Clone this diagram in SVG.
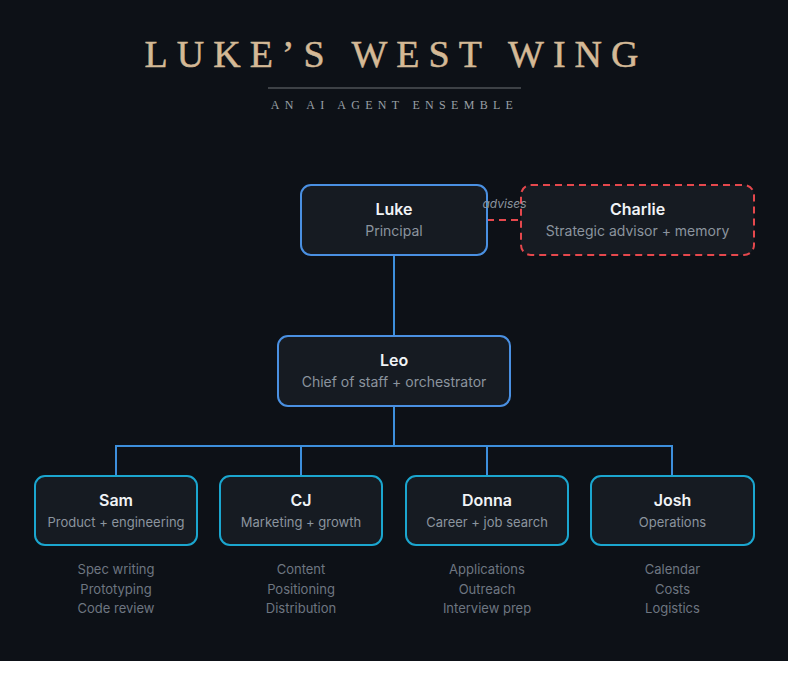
<svg xmlns="http://www.w3.org/2000/svg" width="800" height="673" viewBox="0 0 800 673">
<style>
.bg{fill:#0d1117}
.box{fill:#161b22;stroke-width:2}
.top{stroke:#4a90e2}
.team{stroke:#1ba6cf}
.adv{stroke:#e5484d;stroke-dasharray:7 5}
.name{font-family:Inter,"Liberation Sans",sans-serif;font-size:16px;font-weight:600;fill:#f0f3f6;text-anchor:middle}
.role{font-family:Inter,"Liberation Sans",sans-serif;font-size:14px;fill:#8b949e;text-anchor:middle}
.team-role{font-size:13px}
.item{font-family:Inter,"Liberation Sans",sans-serif;font-size:13px;fill:#6e7681;text-anchor:middle}
.link{fill:none;stroke:#3d8fdc;stroke-width:2}
</style>
<rect x="0" y="0" width="800" height="673" fill="#ffffff"/>
<rect class="bg" x="0" y="0" width="788" height="661"/>
<text x="396" y="67" font-family="'Liberation Serif',serif" font-size="38" letter-spacing="9" fill="#d4b996" stroke="#d4b996" stroke-width="0.5" text-anchor="middle">LUKE’S WEST WING</text>
<line x1="268" y1="88" x2="521" y2="88" stroke="#6e7276" stroke-width="1"/>
<text x="394.5" y="109" font-family="'Liberation Serif',serif" font-size="12" letter-spacing="5.3" fill="#9aa0a6" text-anchor="middle">AN AI AGENT ENSEMBLE</text>
<g id="connectors">
<line class="link" x1="394" y1="255" x2="394" y2="336"/>
<path class="link" d="M394 406V446M116 476V446H672V476M301 446V476M487 446V476"/>
<line x1="487" y1="220" x2="521" y2="220" stroke="#e5484d" stroke-width="2" stroke-dasharray="7 5"/>
</g>
<g id="luke">
<rect class="box top" x="301" y="185" width="186" height="70" rx="10"/>
<text class="name" x="394" y="215">Luke</text>
<text class="role" x="394" y="236">Principal</text>
</g>
<g id="charlie">
<rect class="box adv" x="521" y="185" width="233" height="70" rx="10"/>
<text class="name" x="637.5" y="215">Charlie</text>
<text class="role" x="637.5" y="236">Strategic advisor + memory</text>
</g>
<g id="leo">
<rect class="box top" x="278" y="336" width="232" height="70" rx="10"/>
<text class="name" x="394" y="366">Leo</text>
<text class="role" x="394" y="387">Chief of staff + orchestrator</text>
</g>
<g id="sam">
<rect class="box team" x="35" y="476" width="162" height="69" rx="10"/>
<text class="name" x="116" y="506">Sam</text>
<text class="role team-role" x="116" y="527">Product + engineering</text>
<text class="item" x="116" y="574">Spec writing</text>
<text class="item" x="116" y="594">Prototyping</text>
<text class="item" x="116" y="613">Code review</text>
</g>
<g id="cj">
<rect class="box team" x="220" y="476" width="162" height="69" rx="10"/>
<text class="name" x="301" y="506">CJ</text>
<text class="role team-role" x="301" y="527">Marketing + growth</text>
<text class="item" x="301" y="574">Content</text>
<text class="item" x="301" y="594">Positioning</text>
<text class="item" x="301" y="613">Distribution</text>
</g>
<g id="donna">
<rect class="box team" x="406" y="476" width="162" height="69" rx="10"/>
<text class="name" x="487" y="506">Donna</text>
<text class="role team-role" x="487" y="527">Career + job search</text>
<text class="item" x="487" y="574">Applications</text>
<text class="item" x="487" y="594">Outreach</text>
<text class="item" x="487" y="613">Interview prep</text>
</g>
<g id="josh">
<rect class="box team" x="591" y="476" width="163" height="69" rx="10"/>
<text class="name" x="672.5" y="506">Josh</text>
<text class="role team-role" x="672.5" y="527">Operations</text>
<text class="item" x="672.5" y="574">Calendar</text>
<text class="item" x="672.5" y="594">Costs</text>
<text class="item" x="672.5" y="613">Logistics</text>
</g>
<text x="504.5" y="208" font-family="Inter,'Liberation Sans',sans-serif" font-size="12" font-style="italic" fill="#8b949e" text-anchor="middle">advises</text>
</svg>
